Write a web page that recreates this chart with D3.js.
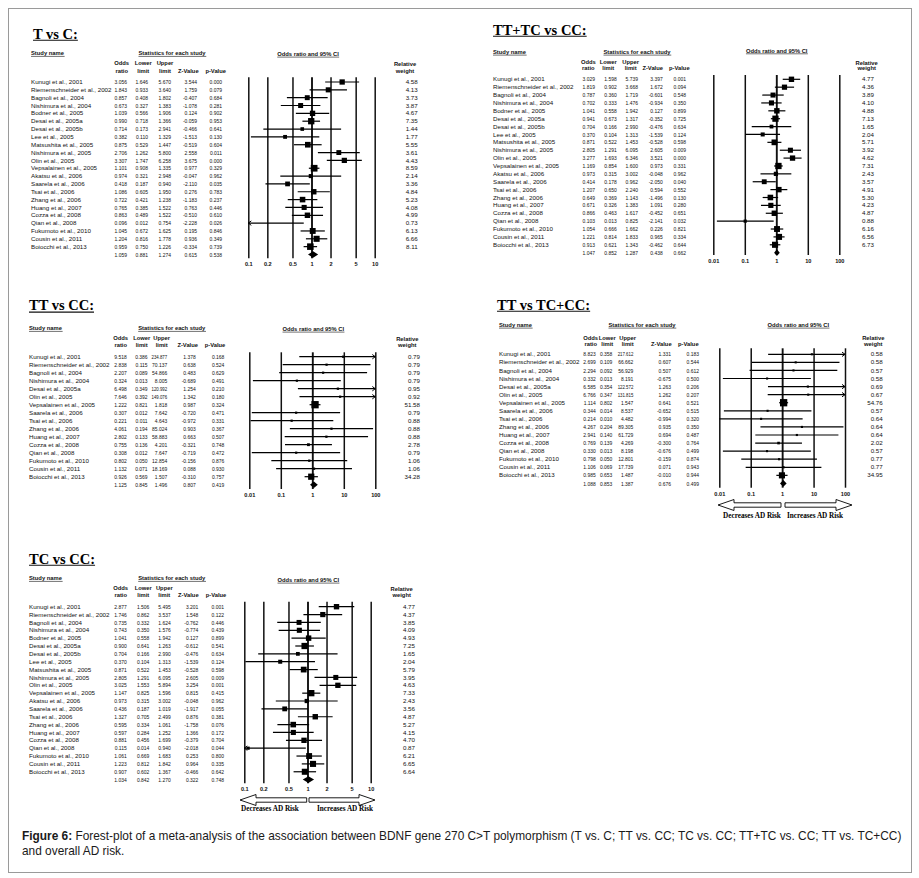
<!DOCTYPE html>
<html><head><meta charset="utf-8">
<script src="https://cdn.jsdelivr.net/npm/d3@7/dist/d3.min.js"></script>
<style>body{margin:0;background:#fff}svg{display:block}</style>
</head><body>
<svg id="c" width="919" height="878"></svg>
<script>
// ---------------- DATA ----------------
const studies22 = ["Kunugi et al., 2001","Riemenschneider et al., 2002","Bagnoli et al., 2004","Nishimura et al., 2004","Bodner et al., 2005","Desai et al., 2005a","Desai et al., 2005b","Lee et al., 2005","Matsushita et al., 2005","Nishimura et al., 2005","Olin et al., 2005","Vepsalainen et al., 2005","Akatsu et al., 2006","Saarela et al., 2006","Tsai et al., 2006","Zhang et al., 2006","Huang et al., 2007","Cozza et al., 2008","Qian et al., 2008","Fukumoto et al., 2010","Cousin et al., 2011","Boiocchi et al., 2013"];
const studies16 = ["Kunugi et al., 2001","Riemenschneider et al., 2002","Bagnoli et al., 2004","Nishimura et al., 2004","Desai et al., 2005a","Olin et al., 2005","Vepsalainen et al., 2005","Saarela et al., 2006","Tsai et al., 2006","Zhang et al., 2006","Huang et al., 2007","Cozza et al., 2008","Qian et al., 2008","Fukumoto et al., 2010","Cousin et al., 2011","Boiocchi et al., 2013"];

const ticksShort = [0.1, 0.2, 0.5, 1, 2, 5, 10];
const ticksLong = [0.01, 0.1, 1, 10, 100];

// T vs C
const tvcOR = [3.056,1.843,0.857,0.673,1.039,0.990,0.714,0.382,0.875,2.706,3.307,1.101,0.974,0.418,1.086,0.722,0.765,0.863,0.096,1.045,1.204,0.959];
const tvcLo = [1.646,0.933,0.408,0.327,0.566,0.718,0.173,0.110,0.529,1.262,1.747,0.908,0.321,0.187,0.605,0.421,0.385,0.489,0.012,0.672,0.816,0.750];
const tvcHi = [5.670,3.640,1.802,1.383,1.906,1.366,2.941,1.329,1.447,5.800,6.258,1.335,2.948,0.940,1.950,1.238,1.522,1.522,0.754,1.625,1.778,1.226];
const tvcZ  = [3.544,1.759,-0.407,-1.078,0.124,-0.059,-0.466,-1.513,-0.519,2.558,3.675,0.977,-0.047,-2.110,0.276,-1.183,0.763,-0.510,-2.228,0.195,0.936,-0.334];
const tvcP  = [0.000,0.079,0.684,0.281,0.902,0.953,0.641,0.130,0.604,0.011,0.000,0.329,0.962,0.035,0.783,0.237,0.446,0.610,0.026,0.846,0.349,0.739];
const tvcW  = [4.58,4.13,3.73,3.87,4.67,7.35,1.44,1.77,5.55,3.61,4.43,8.59,2.14,3.36,4.84,5.23,4.08,4.99,0.73,6.13,6.66,8.11];
const tvcSum = [1.059,0.881,1.274,0.615,0.538];

// TT+TC vs CC
const domOR = [3.029,1.819,0.787,0.702,1.041,0.941,0.704,0.370,0.871,2.805,3.277,1.169,0.973,0.414,1.207,0.649,0.671,0.866,0.103,1.054,1.221,0.913];
const domLo = [1.598,0.902,0.360,0.333,0.558,0.673,0.166,0.104,0.522,1.291,1.693,0.854,0.315,0.178,0.650,0.369,0.326,0.463,0.013,0.666,0.814,0.621];
const domHi = [5.739,3.668,1.719,1.476,1.942,1.317,2.990,1.313,1.453,6.095,6.346,1.600,3.002,0.962,2.240,1.143,1.383,1.617,0.825,1.662,1.833,1.343];
const domZ  = [3.397,1.672,-0.601,-0.934,0.127,-0.352,-0.476,-1.539,-0.528,2.605,3.521,0.973,-0.048,-2.050,0.594,-1.496,1.091,-0.452,-2.141,0.226,0.965,-0.462];
const domP  = [0.001,0.094,0.548,0.350,0.899,0.725,0.634,0.124,0.598,0.009,0.000,0.331,0.962,0.040,0.552,0.130,0.280,0.651,0.032,0.821,0.334,0.644];
const domW  = [4.77,4.36,3.89,4.10,4.88,7.13,1.65,2.04,5.71,3.92,4.62,7.31,2.43,3.57,4.91,5.30,4.23,4.87,0.88,6.16,6.56,6.73];
const domSum = [1.047,0.852,1.287,0.438,0.662];

// TT vs CC
const homOR = [9.518,2.838,2.207,0.324,6.498,7.646,1.222,0.307,0.221,4.061,2.802,0.755,0.308,0.802,1.132,0.926];
const homLo = [0.386,0.115,0.089,0.013,0.349,0.392,0.821,0.012,0.011,0.194,0.133,0.136,0.012,0.050,0.071,0.569];
const homHi = [234.877,70.137,54.866,8.005,120.992,149.076,1.818,7.642,4.643,85.024,58.883,4.201,7.647,12.854,18.169,1.507];
const homZ  = [1.378,0.638,0.483,-0.689,1.254,1.342,0.987,-0.720,-0.972,0.903,0.663,-0.321,-0.719,-0.156,0.088,-0.310];
const homP  = [0.168,0.524,0.629,0.491,0.210,0.180,0.324,0.471,0.331,0.367,0.507,0.748,0.472,0.876,0.930,0.757];
const homW  = [0.79,0.79,0.79,0.79,0.95,0.92,51.58,0.79,0.88,0.88,0.88,2.78,0.79,1.06,1.06,34.28];
const homSum = [1.125,0.845,1.496,0.807,0.419];

// TT vs TC+CC
const recOR = [8.823,2.699,2.294,0.332,6.585,6.766,1.114,0.344,0.214,4.267,2.941,0.769,0.330,0.798,1.106,0.985];
const recLo = [0.358,0.109,0.092,0.013,0.354,0.347,0.802,0.014,0.010,0.204,0.140,0.139,0.013,0.050,0.069,0.653];
const recHi = [217.612,66.662,56.929,8.191,122.572,131.815,1.547,8.537,4.482,89.305,61.729,4.269,8.198,12.801,17.739,1.487];
const recZ  = [1.331,0.607,0.507,-0.675,1.263,1.262,0.641,-0.652,-0.994,0.935,0.694,-0.300,-0.676,-0.159,0.071,-0.010];
const recP  = [0.183,0.544,0.612,0.500,0.206,0.207,0.521,0.515,0.320,0.350,0.487,0.764,0.499,0.874,0.943,0.944];
const recW  = [0.58,0.58,0.57,0.58,0.69,0.67,54.76,0.57,0.64,0.64,0.64,2.02,0.57,0.77,0.77,34.95];
const recSum = [1.088,0.853,1.387,0.676,0.499];

// TC vs CC
const hetOR = [2.877,1.746,0.735,0.743,1.041,0.900,0.704,0.370,0.871,2.805,3.025,1.147,0.973,0.436,1.327,0.595,0.597,0.881,0.115,1.061,1.223,0.907];
const hetLo = [1.506,0.862,0.332,0.350,0.558,0.641,0.166,0.104,0.522,1.291,1.553,0.825,0.315,0.187,0.705,0.334,0.284,0.456,0.014,0.669,0.812,0.602];
const hetHi = [5.495,3.537,1.624,1.576,1.942,1.263,2.990,1.313,1.453,6.095,5.894,1.596,3.002,1.019,2.499,1.061,1.252,1.699,0.940,1.683,1.842,1.367];
const hetZ  = [3.201,1.548,-0.762,-0.774,0.127,-0.612,-0.476,-1.539,-0.528,2.605,3.254,0.815,-0.048,-1.917,0.876,-1.758,1.366,-0.379,-2.018,0.253,0.964,-0.466];
const hetP  = [0.001,0.122,0.446,0.439,0.899,0.541,0.634,0.124,0.598,0.009,0.001,0.415,0.962,0.055,0.381,0.076,0.172,0.704,0.044,0.800,0.335,0.642];
const hetW  = [4.77,4.37,3.85,4.09,4.93,7.25,1.65,2.04,5.79,3.95,4.63,7.33,2.43,3.56,4.87,5.27,4.15,4.70,0.87,6.21,6.65,6.64];
const hetSum = [1.034,0.842,1.270,0.322,0.748];

const colHeads = [["Odds","ratio"],["Lower","limit"],["Upper","limit"],["","Z-Value"],["","p-Value"]];
const captionBold = "Figure 6:";
const captionLine1 = " Forest-plot of a meta-analysis of the association between BDNF gene 270 C>T polymorphism (T vs. C; TT vs. CC; TC vs. CC; TT+TC vs. CC; TT vs. TC+CC)";
const captionLine2 = "and overall AD risk.";

// ---------------- DRAW ----------------
const SANS = "'Liberation Sans', Arial, sans-serif";
const SERIF = "'Liberation Serif', 'Times New Roman', serif";
const INK = "#111";
const svg = d3.select("#c");
svg.append("rect").attr("width",919).attr("height",878).attr("fill","#fff");
svg.append("rect").attr("x",8.5).attr("y",8.5).attr("width",903).attr("height",864)
   .attr("fill","none").attr("stroke","#9a9a9a").attr("stroke-width",1);

function txt(g, x, y, s, o = {}) {
  return g.append("text").attr("x", x).attr("y", y).text(s)
    .attr("font-family", o.family || SANS).attr("font-size", o.size || 6.2)
    .attr("font-weight", o.bold ? "bold" : "normal")
    .attr("text-anchor", o.anchor || "start").attr("fill", o.fill || INK);
}
function ul(g, t, off, w) {
  const b = t.node().getBBox();
  const y = +t.attr("y") + off;
  g.append("line").attr("x1", b.x).attr("x2", b.x + b.width).attr("y1", y).attr("y2", y)
    .attr("stroke", INK).attr("stroke-width", w);
}
function num(g, x, y, s) {
  const t = txt(g, x, y, s, {anchor: "end"});
  const L = t.node().getComputedTextLength();
  t.attr("textLength", L * (s.length > 6 ? 0.7 : 0.8)).attr("lengthAdjust", "spacingAndGlyphs");
  return t;
}

function drawPanel(L, D) {
  const g = svg.append("g");
  const t = txt(g, L.tx, L.ty, L.title, {family: SERIF, bold: true, size: 14.5, fill: "#000"});
  ul(g, t, 1.8, 1.1);
  const sn = txt(g, L.nameX, L.hdrY + 2, "Study name", {bold: true, size: 5.8});
  ul(g, sn, 1.1, 0.6);
  const st = txt(g, L.statsCx, L.hdrY + 2, "Statistics for each study", {bold: true, size: 5.8, anchor: "middle"});
  ul(g, st, 1.1, 0.6);
  colHeads.forEach((h, j) => {
    if (h[0]) txt(g, L.colCx[j], L.h1Y + 2, h[0], {bold: true, size: 5.8, anchor: "middle"});
    txt(g, L.colCx[j], L.h2Y + 2, h[1], {bold: true, size: 5.8, anchor: "middle"});
  });

  const x = d3.scaleLog().domain(L.domain).range(L.range);
  const [xmin, xmax] = L.domain;

  const ax = g.append("g").attr("transform", `translate(0,${L.lineBot})`)
    .call(d3.axisBottom(x).tickValues(L.ticks).tickFormat(d => String(d))
      .tickSizeInner(-(L.lineBot - L.lineTop)).tickSizeOuter(0).tickPadding(L.tickY - L.lineBot - 2));
  ax.select(".domain").remove();
  ax.selectAll(".tick line").attr("stroke", INK).attr("stroke-width", d => d === 1 ? 1.9 : 1.5);
  ax.selectAll(".tick text").attr("font-family", SANS).attr("font-size", 5.6)
    .attr("font-weight", "bold").attr("fill", INK);

  const ph = txt(g, L.plotHdrCx, L.plotHdrY + 2, "Odds ratio and 95% CI", {bold: true, size: 5.8, anchor: "middle"});
  ul(g, ph, 1.1, 0.6);
  txt(g, L.wCx, L.wY1 + 2, "Relative", {bold: true, size: 5.8, anchor: "middle"});
  txt(g, L.wCx, L.wY2 + 2, "weight", {bold: true, size: 5.8, anchor: "middle"});

  const wmax = d3.max(D.w);
  const box = d3.scaleSqrt().domain([0, wmax]).range([1.5, L.maxBox]);

  D.names.forEach((name, i) => {
    const y = L.y0 + i * L.dy;
    txt(g, L.nameX, y + 2.1, name);
    [D.or[i], D.lo[i], D.hi[i], D.z[i], D.p[i]].forEach((v, j) => num(g, L.colR[j], y + 2.1, v.toFixed(3)));
    txt(g, L.wR, y + 2.1, D.w[i].toFixed(2), {anchor: "end"});

    const lo = Math.max(D.lo[i], xmin), hi = Math.min(D.hi[i], xmax);
    g.append("line").attr("x1", x(lo)).attr("x2", x(hi)).attr("y1", y).attr("y2", y)
      .attr("stroke", "#000").attr("stroke-width", 1.2);
    if (D.lo[i] < xmin) {
      const ex = x(xmin);
      g.append("path").attr("d", `M${ex + 3},${y - 2.2}L${ex},${y}L${ex + 3},${y + 2.2}`)
        .attr("fill", "none").attr("stroke", "#000").attr("stroke-width", 1);
    }
    if (D.hi[i] > xmax) {
      const ex = x(xmax);
      g.append("path").attr("d", `M${ex - 3},${y - 2.2}L${ex},${y}L${ex - 3},${y + 2.2}`)
        .attr("fill", "none").attr("stroke", "#000").attr("stroke-width", 1);
    }
    if (D.or[i] >= xmin && D.or[i] <= xmax) {
      const s = box(D.w[i]);
      g.append("rect").attr("x", x(D.or[i]) - s / 2).attr("y", y - s / 2)
        .attr("width", s).attr("height", s).attr("fill", "#000");
    }
  });

  const ys = L.y0 + D.names.length * L.dy;
  D.sum.forEach((v, j) => num(g, L.colR[j], ys + 2.1, v.toFixed(3)));
  const [so, sl, sh] = D.sum;
  g.append("path").attr("d", `M${x(sl)},${ys}L${x(so)},${ys - 3.3}L${x(sh)},${ys}L${x(so)},${ys + 3.3}Z`)
    .attr("fill", "#000");

  if (L.arrows) {
    const A = L.arrows, y = A.y;
    const hl = 16, hh = 5.5, bh = 2.2;
    g.append("path").attr("d",
      `M${A.l1},${y}L${A.l1 + hl},${y - hh}L${A.l1 + hl},${y - bh}L${A.l2},${y - bh}L${A.l2},${y + bh}L${A.l1 + hl},${y + bh}L${A.l1 + hl},${y + hh}Z`)
      .attr("fill", "#fff").attr("stroke", "#000").attr("stroke-width", 0.9);
    g.append("path").attr("d",
      `M${A.r2},${y}L${A.r2 - hl},${y - hh}L${A.r2 - hl},${y - bh}L${A.r1},${y - bh}L${A.r1},${y + bh}L${A.r2 - hl},${y + bh}L${A.r2 - hl},${y + hh}Z`)
      .attr("fill", "#fff").attr("stroke", "#000").attr("stroke-width", 0.9);
    txt(g, A.c1, A.ty, "Decreases AD Risk", {family: SERIF, bold: true, size: 7.2, anchor: "middle", fill: "#000"});
    txt(g, A.c2, A.ty, "Increases AD Risk", {family: SERIF, bold: true, size: 7.2, anchor: "middle", fill: "#000"});
  }
}

const layouts = [
  {title: "T vs C:", tx: 33, ty: 38.5, nameX: 31, hdrY: 53.3, statsCx: 172,
   colCx: [121.7, 143.3, 165, 188.3, 215.7], h1Y: 63.3, h2Y: 70.7, colR: [127, 148, 171, 197, 222],
   y0: 82, dy: 7.84, domain: [0.1, 10], range: [248.3, 374.7], ticks: ticksShort,
   lineTop: 77.3, lineBot: 258.3, tickY: 264, plotHdrCx: 308, plotHdrY: 54,
   wCx: 405, wY1: 64, wY2: 71, wR: 417.7, maxBox: 6.7},
  {title: "TT+TC vs CC:", tx: 493, ty: 34.5, nameX: 493, hdrY: 52, statsCx: 637,
   colCx: [588.3, 608.3, 630.7, 652.7, 679.3], h1Y: 61.7, h2Y: 68.3, colR: [595, 616.7, 638, 662.7, 686],
   y0: 79.3, dy: 7.88, domain: [0.01, 100], range: [713.3, 839.3], ticks: ticksLong,
   lineTop: 75, lineBot: 255, tickY: 260.7, plotHdrCx: 776.7, plotHdrY: 50.7,
   wCx: 866.7, wY1: 62.7, wY2: 68.3, wR: 874, maxBox: 6.3},
  {title: "TT vs CC:", tx: 29, ty: 310.3, nameX: 29, hdrY: 328.3, statsCx: 171.7,
   colCx: [120.7, 141.7, 161.7, 187.7, 215], h1Y: 338.3, h2Y: 345, colR: [126.7, 147.6, 167.2, 195.7, 224.3],
   y0: 356.7, dy: 8.0, domain: [0.01, 100], range: [249.3, 375.3], ticks: ticksLong,
   lineTop: 352.3, lineBot: 489, tickY: 495, plotHdrCx: 313.3, plotHdrY: 329,
   wCx: 407.3, wY1: 339, wY2: 345, wR: 420, maxBox: 7.3},
  {title: "TT vs TC+CC:", tx: 497, ty: 309.5, nameX: 499, hdrY: 325, statsCx: 642,
   colCx: [590.7, 607.3, 627.7, 661.3, 688.3], h1Y: 338.3, h2Y: 344.3, colR: [595.7, 612.3, 633.3, 671, 699],
   y0: 354.3, dy: 8.07, domain: [0.01, 100], range: [719.3, 845], ticks: ticksLong,
   lineTop: 348.3, lineBot: 487.7, tickY: 494.3, plotHdrCx: 798.3, plotHdrY: 325,
   wCx: 873.3, wY1: 338.3, wY2: 344.3, wR: 882.7, maxBox: 7.3,
   arrows: {y: 505, l1: 718, l2: 781, r1: 785, r2: 852, ty: 518, c1: 752, c2: 815}},
  {title: "TC vs CC:", tx: 29, ty: 563.5, nameX: 29, hdrY: 578.3, statsCx: 171.7,
   colCx: [120.7, 143.3, 164.3, 188.3, 216], h1Y: 588.3, h2Y: 595, colR: [126.7, 149.3, 170.7, 198.3, 224],
   y0: 606.7, dy: 7.86, domain: [0.1, 10], range: [244.3, 370.7], ticks: ticksShort,
   lineTop: 601.7, lineBot: 783.3, tickY: 789, plotHdrCx: 308.3, plotHdrY: 580,
   wCx: 401.7, wY1: 589.3, wY2: 595, wR: 415, maxBox: 6.3,
   arrows: {y: 800, l1: 240, l2: 306.7, r1: 309, r2: 375, ty: 811, c1: 270, c2: 345}}
];

const datasets = [
  {names: studies22, or: tvcOR, lo: tvcLo, hi: tvcHi, z: tvcZ, p: tvcP, w: tvcW, sum: tvcSum},
  {names: studies22, or: domOR, lo: domLo, hi: domHi, z: domZ, p: domP, w: domW, sum: domSum},
  {names: studies16, or: homOR, lo: homLo, hi: homHi, z: homZ, p: homP, w: homW, sum: homSum},
  {names: studies16, or: recOR, lo: recLo, hi: recHi, z: recZ, p: recP, w: recW, sum: recSum},
  {names: studies22, or: hetOR, lo: hetLo, hi: hetHi, z: hetZ, p: hetP, w: hetW, sum: hetSum}
];
layouts.forEach((L, i) => drawPanel(L, datasets[i]));

// caption (line 1 fitted between x=22 and x=903)
const capSize0 = 12;
const cap = svg.append("text").attr("x", 22).attr("y", 840).attr("font-family", SANS)
  .attr("font-size", capSize0).attr("fill", "#1a1a1a");
cap.append("tspan").attr("font-weight", "bold").text(captionBold);
cap.append("tspan").text(captionLine1);
const capW = cap.node().getComputedTextLength();
const capSize = capSize0 * 881 / capW;
cap.attr("font-size", capSize);
svg.append("text").attr("x", 22).attr("y", 855).attr("font-family", SANS)
  .attr("font-size", capSize).attr("fill", "#1a1a1a").text(captionLine2);
</script>
</body></html>
